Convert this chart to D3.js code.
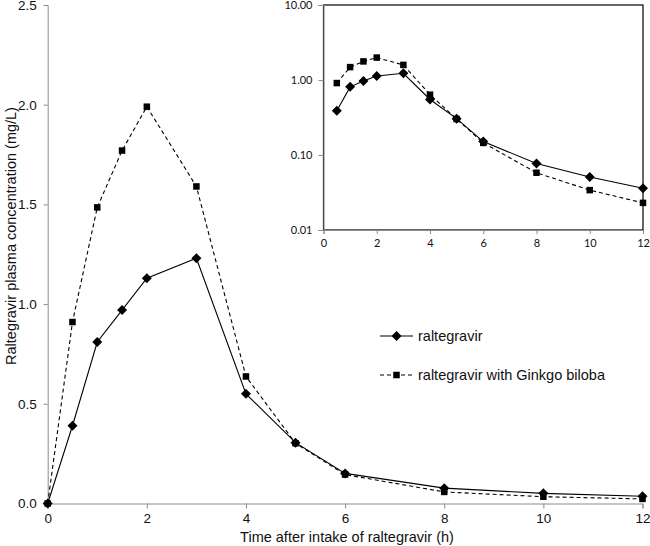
<!DOCTYPE html>
<html>
<head>
<meta charset="utf-8">
<script src="https://cdn.jsdelivr.net/npm/d3@7/dist/d3.min.js"></script>
<style>
  body { margin: 0; background: #fff; }
  svg { display: block; font-family: "Liberation Sans", Arial, sans-serif; }
</style>
</head>
<body>
<svg id="chart" width="650" height="546"></svg>
<script>
// sampling times (h)
const times = [0, 0.5, 1, 1.5, 2, 3, 4, 5, 6, 8, 10, 12];
// raltegravir alone (mg/L)
const raltegravir = [0, 0.39, 0.81, 0.97, 1.13, 1.23, 0.55, 0.305, 0.151, 0.077, 0.051, 0.036];
// raltegravir with Ginkgo biloba (mg/L)
const withGinkgo = [0, 0.91, 1.485, 1.77, 1.99, 1.59, 0.637, 0.302, 0.145, 0.058, 0.034, 0.023];

const mainXTicks = [0, 2, 4, 6, 8, 10, 12];
const mainYTicks = [0, 0.5, 1.0, 1.5, 2.0, 2.5];
const insetYTicks = [0.01, 0.1, 1, 10];

const seriesNames = ['raltegravir', 'raltegravir with Ginkgo biloba'];

const svg = d3.select('#chart');
const axisGrey = '#8c8c8c';

const series = [
  { name: seriesNames[0], values: raltegravir, dash: null, marker: 'diamond' },
  { name: seriesNames[1], values: withGinkgo, dash: '4,3', marker: 'square' }
];

const diamond = d3.symbol().type(d3.symbolDiamond2).size(64);
const square = d3.symbol().type(d3.symbolSquare2).size(54);
const symbolFor = m => (m === 'diamond' ? diamond : square);

// ---------- main chart ----------
const x = d3.scaleLinear().domain([0, 12]).range([47.7, 642.5]);
const y = d3.scaleLinear().domain([0, 2.5]).range([503.5, 5]);

const gx = svg.append('g')
  .attr('transform', `translate(0,${y(0)})`)
  .call(d3.axisBottom(x).tickValues(mainXTicks).tickSize(5).tickPadding(5));
gx.select('.domain').attr('stroke', axisGrey);
gx.selectAll('line').attr('stroke', axisGrey);
gx.selectAll('text').attr('font-size', 13.5).attr('fill', '#111')
  .attr('font-family', '"Liberation Sans", Arial, sans-serif');

const gy = svg.append('g')
  .attr('transform', `translate(${x(0)},0)`)
  .call(d3.axisLeft(y).tickValues(mainYTicks).tickFormat(d3.format('.1f')).tickSize(4).tickPadding(7));
gy.select('.domain').attr('stroke', axisGrey);
gy.selectAll('line').attr('stroke', axisGrey);
gy.selectAll('text').attr('font-size', 13.5).attr('fill', '#111')
  .attr('font-family', '"Liberation Sans", Arial, sans-serif');

svg.append('text')
  .attr('x', 347)
  .attr('y', 542)
  .attr('text-anchor', 'middle')
  .attr('font-size', 14.5)
  .attr('fill', '#111')
  .text('Time after intake of raltegravir (h)');

svg.append('text')
  .attr('transform', 'rotate(-90)')
  .attr('x', -236)
  .attr('y', 16)
  .attr('text-anchor', 'middle')
  .attr('font-size', 14.5)
  .attr('fill', '#111')
  .text('Raltegravir plasma concentration (mg/L)');

const mainLine = d3.line().x(d => x(d[0])).y(d => y(d[1]));

series.forEach(s => {
  const pts = times.map((t, i) => [t, s.values[i]]);
  svg.append('path')
    .datum(pts)
    .attr('fill', 'none')
    .attr('stroke', '#000')
    .attr('stroke-width', 1.1)
    .attr('stroke-dasharray', s.dash)
    .attr('d', mainLine);
  svg.append('g').selectAll('path')
    .data(pts)
    .enter()
    .append('path')
    .attr('d', symbolFor(s.marker))
    .attr('transform', d => `translate(${x(d[0])},${y(d[1])})`)
    .attr('fill', '#000');
});

// ---------- legend ----------
const legend = svg.append('g').attr('transform', 'translate(380,336)');
series.forEach((s, i) => {
  const row = legend.append('g').attr('transform', `translate(0,${i * 39})`);
  row.append('line')
    .attr('x1', 0).attr('x2', 33)
    .attr('stroke', '#000')
    .attr('stroke-width', 1.1)
    .attr('stroke-dasharray', s.dash);
  row.append('path')
    .attr('d', symbolFor(s.marker))
    .attr('transform', 'translate(16.5,0)')
    .attr('fill', '#000');
  row.append('text')
    .attr('x', 38)
    .attr('y', 5)
    .attr('font-size', 14.5)
    .attr('fill', '#111')
    .text(s.name);
});

// ---------- inset (log scale) ----------
const xi = d3.scaleLinear().domain([0, 12]).range([323.5, 643]);
const yi = d3.scaleLog().domain([0.01, 10]).range([230, 5]);

svg.append('rect')
  .attr('x', xi(0)).attr('y', yi(10))
  .attr('width', xi(12) - xi(0)).attr('height', yi(0.01) - yi(10))
  .attr('fill', '#fff')
  .attr('stroke', '#000')
  .attr('stroke-width', 1.2);

const gxi = svg.append('g')
  .attr('transform', `translate(0,${yi(0.01)})`)
  .call(d3.axisBottom(xi).tickValues(mainXTicks).tickSize(4).tickPadding(5));
gxi.select('.domain').attr('stroke', axisGrey);
gxi.selectAll('line').attr('stroke', axisGrey);
gxi.selectAll('text').attr('font-size', 11).attr('fill', '#111')
  .attr('font-family', 'Lato, "Open Sans", sans-serif');

const gyi = svg.append('g')
  .attr('transform', `translate(${xi(0)},0)`)
  .call(d3.axisLeft(yi).tickValues(insetYTicks).tickFormat(d3.format('.2f')).tickSize(5).tickPadding(6));
gyi.select('.domain').attr('stroke', axisGrey);
gyi.selectAll('line').attr('stroke', axisGrey);
gyi.selectAll('text').attr('font-size', 11).attr('fill', '#111')
  .attr('font-family', 'Lato, "Open Sans", sans-serif');

const insetLine = d3.line().x(d => xi(d[0])).y(d => yi(d[1]));

series.forEach(s => {
  const pts = times.map((t, i) => [t, s.values[i]]).filter(d => d[1] > 0);
  svg.append('path')
    .datum(pts)
    .attr('fill', 'none')
    .attr('stroke', '#000')
    .attr('stroke-width', 1.1)
    .attr('stroke-dasharray', s.dash)
    .attr('d', insetLine);
  svg.append('g').selectAll('path')
    .data(pts)
    .enter()
    .append('path')
    .attr('d', symbolFor(s.marker))
    .attr('transform', d => `translate(${xi(d[0])},${yi(d[1])})`)
    .attr('fill', '#000');
});
</script>
</body>
</html>
